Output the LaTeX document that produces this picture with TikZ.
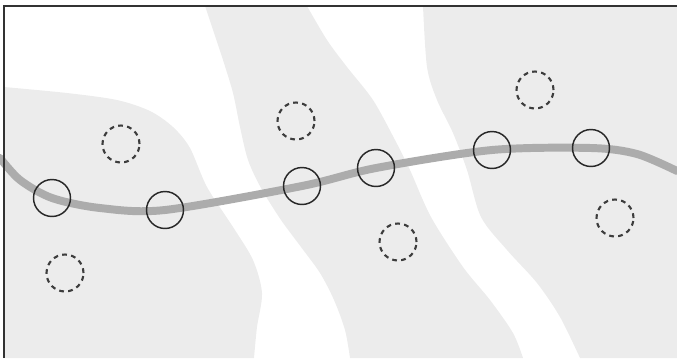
\documentclass[tikz,border=0pt]{standalone}
\usepackage{xcolor}
\definecolor{zonegray}{RGB}{236,236,236}
\definecolor{routegray}{RGB}{172,172,172}
\definecolor{ringdark}{RGB}{40,40,40}
\definecolor{framedark}{RGB}{50,50,50}
\usepackage{tikz}
\usetikzlibrary{backgrounds}

\begin{document}
\begin{tikzpicture}[x=0.0265cm, y=-0.0265cm,
  visited/.style={draw=ringdark, circle, line width=1.1pt, minimum size=0.98cm, inner sep=0pt},
  candidate/.style={draw=ringdark!90, circle, line width=1.6pt, dash pattern=on 3.6pt off 3.2pt, minimum size=0.98cm, inner sep=0pt},
  zone/.style={fill=zonegray, draw=none},
  route/.style={draw=routegray, line width=6pt, line cap=round}]
  \useasboundingbox (0,0) rectangle (677,358);

  % Visited positions on the route
  \node[visited] (s1) at (52,198) {};
  \node[visited] (s2) at (165,210) {};
  \node[visited] (s3) at (302,186) {};
  \node[visited] (s4) at (376,168) {};
  \node[visited] (s5) at (492,150) {};
  \node[visited] (s6) at (591,148) {};

  % Candidate positions (dashed)
  \node[candidate] (d1) at (121,144) {};
  \node[candidate] (d2) at (296,121) {};
  \node[candidate] (d3) at (535,90) {};
  \node[candidate] (d4) at (65,273) {};
  \node[candidate] (d5) at (398,242) {};
  \node[candidate] (d6) at (615,218) {};

  \coordinate (routein) at (0,158);
  \coordinate (routeout) at (677,171);

  \begin{pgfonlayer}{background}
    % Left zone
    \path[zone] plot[smooth] coordinates {(4,87) (67,93) (117,100) (150,111) (173,127) (190,148) (207,187) (233,227) (253,260) (262,293) (257,327) (254,358)} -- (4,358) -- cycle;
    % Middle band
    \path[zone] plot[smooth] coordinates {(205,6) (214,33) (223,60) (233,93) (240,127) (248,160) (261,188) (281,220) (301,247) (320,273) (334,300) (345,330) (350,358)}
      -- plot[smooth] coordinates {(523,358) (513,333) (490,300) (463,267) (431,217) (410,170) (395,140) (373,100) (347,67) (327,40) (307,6)} -- cycle;
    % Right zone
    \path[zone] plot[smooth] coordinates {(423,6) (427,67) (437,100) (453,133) (467,170) (481,217) (507,250) (537,283) (560,317) (580,358)} -- (677,358) -- (677,6) -- cycle;

    % Route through the visited positions
    \draw[route] plot[smooth] coordinates {(routein) (20,180) (s1.center) (100,208) (s2.center) (s3.center) (s4.center) (s5.center) (s6.center) (637,154) (routeout)};
  \end{pgfonlayer}

  % Frame (top and left edges)
  \draw[framedark, line width=1.4pt] (4,358) -- (4,6) -- (677,6);
\end{tikzpicture}
\end{document}
